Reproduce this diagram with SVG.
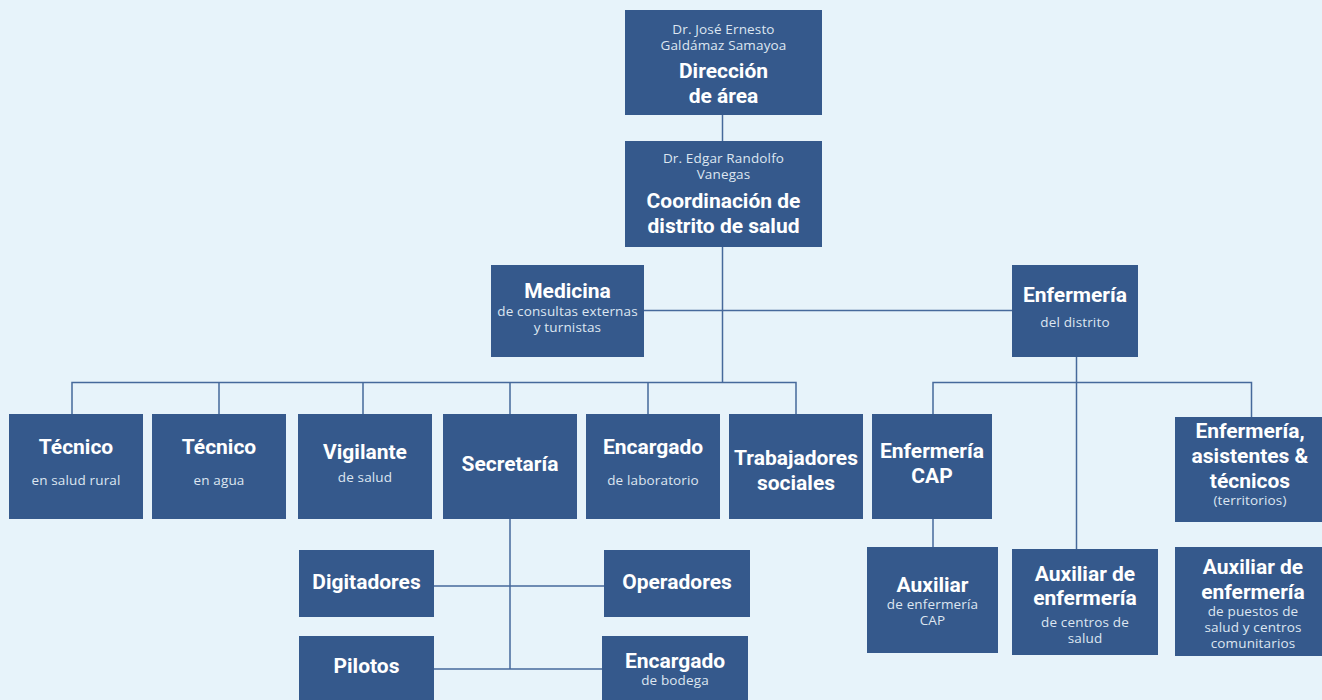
<svg xmlns="http://www.w3.org/2000/svg" width="1322" height="700" viewBox="0 0 1322 700">
<style>
.bg{fill:#e7f3fa}
.box{fill:#35598c}
.t{font-family:Roboto,"Liberation Sans",sans-serif;font-weight:700;font-size:21px;fill:#ffffff;text-anchor:middle}
.s{font-family:"Open Sans","Liberation Sans",sans-serif;font-weight:400;font-size:13.5px;letter-spacing:0.15px;fill:#dde6f1;text-anchor:middle}
.c{fill:none;stroke:#46699b;stroke-width:1.5}
</style>
<rect class="bg" x="0" y="0" width="1322" height="700"/>
<g id="connectors">
<path class="c" d="M722.5,115 V141"/>
<path class="c" d="M722.5,247 V382"/>
<path class="c" d="M644,310.5 H1012"/>
<path class="c" d="M72,414 V382.5 H796 V414"/>
<path class="c" d="M219,382.5 V414 M363,382.5 V414 M510,382.5 V414 M648,382.5 V414"/>
<path class="c" d="M1076.5,357 V549"/>
<path class="c" d="M933,414 V382.5 H1251.5 V417"/>
<path class="c" d="M933,519 V547"/>
<path class="c" d="M510,519 V669"/>
<path class="c" d="M434,586 H604"/>
<path class="c" d="M434,669 H602"/>
</g>
<g id="direccion"><rect class="box" x="625" y="10" width="197" height="105"/>
<text class="s" x="723.5" y="34">Dr. José Ernesto</text><text class="s" x="723.5" y="50">Galdámaz Samayoa</text>
<text class="t" x="723.5" y="78">Dirección</text><text class="t" x="723.5" y="103">de área</text></g>
<g id="coordinacion"><rect class="box" x="625" y="141" width="197" height="106"/>
<text class="s" x="723.5" y="163">Dr. Edgar Randolfo</text><text class="s" x="723.5" y="179">Vanegas</text>
<text class="t" x="723.5" y="208">Coordinación de</text><text class="t" x="723.5" y="233">distrito de salud</text></g>
<g id="medicina"><rect class="box" x="491" y="265" width="153" height="92"/>
<text class="t" x="567.5" y="298">Medicina</text><text class="s" x="567.5" y="316">de consultas externas</text><text class="s" x="567.5" y="332">y turnistas</text></g>
<g id="enfermeria"><rect class="box" x="1012" y="265" width="126" height="92"/>
<text class="t" x="1075" y="302">Enfermería</text><text class="s" x="1075" y="327">del distrito</text></g>
<g id="tecnico-rural"><rect class="box" x="9" y="414" width="134" height="105"/>
<text class="t" x="76" y="454">Técnico</text><text class="s" x="76" y="485">en salud rural</text></g>
<g id="tecnico-agua"><rect class="box" x="152" y="414" width="134" height="105"/>
<text class="t" x="219" y="454">Técnico</text><text class="s" x="219" y="485">en agua</text></g>
<g id="vigilante"><rect class="box" x="298" y="414" width="134" height="105"/>
<text class="t" x="365" y="459">Vigilante</text><text class="s" x="365" y="482">de salud</text></g>
<g id="secretaria"><rect class="box" x="443" y="414" width="134" height="105"/>
<text class="t" x="510" y="471">Secretaría</text></g>
<g id="laboratorio"><rect class="box" x="586" y="414" width="134" height="105"/>
<text class="t" x="653" y="454">Encargado</text><text class="s" x="653" y="485">de laboratorio</text></g>
<g id="trabajadores"><rect class="box" x="729" y="414" width="134" height="105"/>
<text class="t" x="796" y="465">Trabajadores</text><text class="t" x="796" y="490">sociales</text></g>
<g id="enfermeria-cap"><rect class="box" x="872" y="414" width="120" height="105"/>
<text class="t" x="932" y="458">Enfermería</text><text class="t" x="932" y="483">CAP</text></g>
<g id="enfermeria-asistentes"><rect class="box" x="1175" y="417" width="150" height="105"/>
<text class="t" x="1250" y="438">Enfermería,</text><text class="t" x="1250" y="463">asistentes &amp;</text><text class="t" x="1250" y="488">técnicos</text><text class="s" x="1250" y="505">(territorios)</text></g>
<g id="digitadores"><rect class="box" x="299" y="550" width="135" height="67"/>
<text class="t" x="366.5" y="589">Digitadores</text></g>
<g id="operadores"><rect class="box" x="604" y="550" width="146" height="67"/>
<text class="t" x="677" y="589">Operadores</text></g>
<g id="pilotos"><rect class="box" x="299" y="636" width="135" height="70"/>
<text class="t" x="366.5" y="673">Pilotos</text></g>
<g id="bodega"><rect class="box" x="602" y="636" width="146" height="70"/>
<text class="t" x="675" y="668">Encargado</text><text class="s" x="675" y="685">de bodega</text></g>
<g id="auxiliar-cap"><rect class="box" x="867" y="547" width="131" height="106"/>
<text class="t" x="932.5" y="592">Auxiliar</text><text class="s" x="932.5" y="609">de enfermería</text><text class="s" x="932.5" y="625">CAP</text></g>
<g id="auxiliar-centros"><rect class="box" x="1012" y="549" width="146" height="106"/>
<text class="t" x="1085" y="581">Auxiliar de</text><text class="t" x="1085" y="605">enfermería</text><text class="s" x="1085" y="627">de centros de</text><text class="s" x="1085" y="643">salud</text></g>
<g id="auxiliar-puestos"><rect class="box" x="1175" y="547" width="150" height="109"/>
<text class="t" x="1253" y="574">Auxiliar de</text><text class="t" x="1253" y="599">enfermería</text><text class="s" x="1253" y="616">de puestos de</text><text class="s" x="1253" y="632">salud y centros</text><text class="s" x="1253" y="648">comunitarios</text></g>
</svg>
